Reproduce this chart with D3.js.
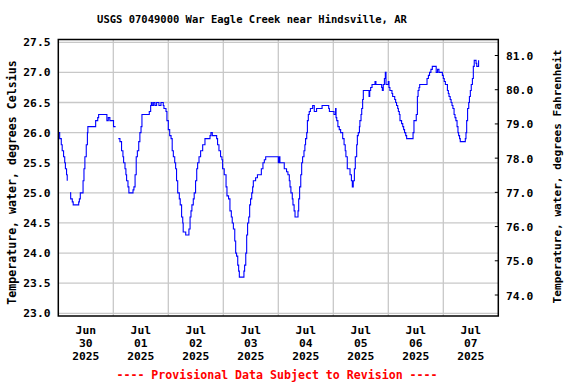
<!DOCTYPE html>
<html><head><meta charset="utf-8">
<script src="https://cdn.jsdelivr.net/npm/d3@7"></script>
<style>
html,body{margin:0;padding:0;background:#fff;}
svg{display:block;}
text{font-family:"DejaVu Sans Mono","Liberation Mono",monospace;font-weight:bold;}
</style></head>
<body><svg id="c" width="576" height="384"></svg>
<script>
const title = "USGS 07049000 War Eagle Creek near Hindsville, AR";
const yTitleLeft = "Temperature, water, degrees Celsius";
const yTitleRight = "Temperature, water, degrees Fahrenheit";
const footnote = "---- Provisional Data Subject to Revision ----";
const dayLabels = [["Jun","30","2025"],["Jul","01","2025"],["Jul","02","2025"],["Jul","03","2025"],["Jul","04","2025"],["Jul","05","2025"],["Jul","06","2025"],["Jul","07","2025"]];
const celsiusTicks = [23.0,23.5,24.0,24.5,25.0,25.5,26.0,26.5,27.0,27.5];
const fahrenheitTicks = [74.0,75.0,76.0,77.0,78.0,79.0,80.0,81.0];
// hours since 2025-06-30 00:00, temperature in deg C (null = gap)
const hours = [0,0.6,1.3,1.7,2.3,2.8,3.1,3.6,3.9,4.5,5.1,5.4,6.1,6.5,8.0,8.9,9.2,9.6,10.5,10.8,11.2,11.6,12.2,12.7,12.9,13.5,16.0,16.3,17.2,17.6,21.1,21.2,21.8,22.5,24.0,24.1,25.0,25.6,
26.2,26.9,27.6,28.2,28.5,29.1,29.5,29.8,30.4,30.8,32.1,32.6,33.0,33.5,34.0,34.5,35.1,35.6,36.1,36.5,37.5,39.7,40.3,40.6,41.0,41.6,42.2,42.9,43.9,44.8,45.8,46.1,47.0,47.4,48.0,48.6,49.2,49.7,50.2,50.8,51.2,51.6,52.1,52.8,53.2,53.8,54.3,54.5,55.6,56.7,57.0,57.5,57.9,58.3,58.9,59.3,59.9,60.4,60.8,61.4,62.1,63.0,64.0,66.2,66.6,67.2,
69.1,69.5,70.1,70.8,71.4,71.7,72.4,73.2,73.6,74.3,74.9,75.5,75.9,76.4,77.0,77.4,77.8,78.3,78.7,79.0,80.7,81.0,81.3,81.8,82.2,82.6,83.1,83.5,83.9,84.4,84.8,85.1,86.0,86.1,86.9,88.0,88.6,89.3,89.9,90.5,95.6,96.0,96.4,96.7,98.2,98.6,99.6,100.2,100.8,101.1,101.5,102.1,102.4,102.9,103.3,104.3,104.6,104.9,105.3,105.8,106.2,106.6,107.2,107.6,107.9,108.4,108.7,109.1,109.5,110.0,111.0,111.7,112.7,113.8,115.1,118.0,118.3,120.0,120.3,121.0,121.2,121.5,122.0,122.6,123.2,124.1,124.7,125.2,125.5,126.1,126.8,127.3,127.9,128.3,128.7,129.2,129.6,130.2,130.5,130.9,131.4,131.6,132.1,132.4,132.8,133.1,
135.3,135.6,135.9,136.3,136.9,137.5,138.2,138.6,140.8,141.1,141.4,141.8,142.3,142.7,143.0,143.6,144.0,144.3,144.7,145.6,145.9,146.3,146.8,147.2,147.6,148.1,148.4,148.8,149.1,149.8,150.3,150.7,151.1,151.6,152.0,154.5,154.8,155.2,156.0,156.2,156.7,157.0,157.4,157.7,160.6,160.9,161.5,162.0,162.6,163.2,164.7,164.9,165.5,166.1,167.3,167.6,168.0,168.4,168.9,169.3,169.8,170.2,170.5,171.0,171.4,171.8,172.2,172.7,173.1,173.5,174.0,174.4,174.7,175.1,175.4,177.3,177.6,177.9,178.2,178.6,179.1,179.4,179.8,180.2,180.7,181.1,181.5,182.3,182.6,183.2,183.4];
const tempC = [26.0,25.9,25.8,25.7,25.6,25.5,25.4,25.3,25.2,null,25.0,24.9,24.85,24.8,24.8,24.85,24.9,25.0,25.0,25.2,25.4,25.6,25.8,26.0,26.1,26.1,26.1,26.2,26.25,26.3,26.3,26.2,26.25,26.2,26.2,26.1,26.1,null,
25.9,25.85,25.7,25.6,25.5,25.4,25.3,25.2,25.1,25.0,25.0,25.05,25.1,25.3,25.6,25.7,25.85,26.0,26.1,26.3,26.3,26.35,26.45,26.5,26.45,26.5,26.45,26.5,26.45,26.5,26.45,26.4,26.35,26.2,26.05,25.95,25.9,25.7,25.6,25.5,25.4,25.2,25.0,24.9,24.8,24.6,24.5,24.35,24.3,24.3,24.4,24.6,24.7,24.8,24.9,25.0,25.2,25.4,25.5,25.6,25.7,25.8,25.9,25.95,26.0,25.95,
25.9,25.8,25.7,25.6,25.55,25.4,25.3,25.1,24.95,24.9,24.7,24.6,24.5,24.4,24.2,24.0,23.95,23.8,23.7,23.6,23.6,23.7,23.8,24.0,24.3,24.5,24.6,24.8,24.9,25.0,25.1,25.2,25.2,25.25,25.3,25.3,25.4,25.5,25.55,25.6,25.6,25.5,25.6,25.5,25.5,25.4,25.35,25.3,25.2,25.1,25.0,24.9,24.8,24.7,24.6,24.6,24.7,24.9,25.1,25.3,25.5,25.6,25.7,25.8,25.9,26.0,26.2,26.3,26.35,26.4,26.45,26.35,26.4,26.4,26.45,26.4,26.35,26.35,26.3,26.4,26.25,26.2,26.1,26.05,26.0,25.9,25.8,25.7,25.6,25.4,25.4,25.3,25.2,25.1,25.2,25.4,25.6,25.8,25.95,26.0,26.1,26.2,26.3,26.4,26.55,26.7,
26.7,26.6,26.7,26.75,26.8,26.8,26.85,26.8,26.8,26.75,26.7,26.8,26.9,27.0,26.8,26.8,26.85,26.75,26.7,26.65,26.6,26.6,26.55,26.5,26.45,26.4,26.35,26.3,26.2,26.15,26.1,26.05,26.0,25.95,25.9,25.9,26.0,26.2,26.2,26.3,26.6,26.7,26.75,26.8,26.8,26.9,26.95,27.0,27.05,27.1,27.1,27.0,27.05,27.0,27.0,26.95,26.9,26.85,26.8,26.8,26.7,26.65,26.6,26.55,26.5,26.45,26.4,26.3,26.25,26.2,26.1,26.0,25.95,25.9,25.85,25.85,25.9,26.0,26.2,26.4,26.5,26.6,26.7,26.8,26.9,27.1,27.2,27.15,27.1,27.1,27.2];

const svg = d3.select("#c");
const L = 58.3, R = 498.3, T = 39.5, B = 316;
const start = new Date(2025,5,30,0,0,0);
const end = new Date(2025,6,8,0,0,0);
const x = d3.scaleTime().domain([start,end]).range([L,R]);
const y = d3.scaleLinear().domain([23.0,27.5]).range([313.3,42.3]);
const yF = d3.scaleLinear().domain([74,81]).range([295,55.5]);

const data = hours.map((h,i)=>({t:d3.timeMinute.offset(start, Math.round(h*60)), v:tempC[i]}));

// grid
const grid = svg.append("g").attr("stroke","#c8c8c8").attr("stroke-width",1.3);
celsiusTicks.forEach(c=>{
  grid.append("line").attr("x1",L).attr("x2",R).attr("y1",y(c)).attr("y2",y(c));
});
d3.timeDay.range(d3.timeDay.offset(start,1), end).forEach(d=>{
  grid.append("line").attr("x1",x(d)).attr("x2",x(d)).attr("y1",T).attr("y2",B);
});

// line
const line = d3.line().defined(d=>d.v!==null).x(d=>x(d.t)).y(d=>y(d.v)).curve(d3.curveStepAfter);
svg.append("path").datum(data).attr("d",line).attr("fill","none").attr("stroke","#0000ff").attr("stroke-width",1.1);

// frame
svg.append("rect").attr("x",L).attr("y",T).attr("width",R-L).attr("height",B-T)
  .attr("fill","none").attr("stroke","#000").attr("stroke-width",1.5);

// left labels
svg.append("g").selectAll("text").data(celsiusTicks).join("text")
  .attr("x",50.5).attr("y",d=>y(d)+4).attr("text-anchor","end")
  .attr("font-size","11.3px").text(d=>d3.format(".1f")(d));

// right ticks & labels
const rg = svg.append("g");
fahrenheitTicks.forEach(f=>{
  rg.append("line").attr("x1",R-3.5).attr("x2",R).attr("y1",yF(f)).attr("y2",yF(f)).attr("stroke","#000").attr("stroke-width",1);
  rg.append("text").attr("x",506).attr("y",yF(f)+4.5).attr("font-size","11.3px").text(d3.format(".1f")(f));
});

// bottom labels
dayLabels.forEach((lab,i)=>{
  const cx = x(d3.timeHour.offset(d3.timeDay.offset(start,i),12));
  lab.forEach((s,j)=>{
    svg.append("text").attr("x",cx).attr("y",334+j*13).attr("text-anchor","middle")
      .attr("font-size","11.3px").text(s);
  });
});

// titles
svg.append("text").attr("x",252).attr("y",23).attr("text-anchor","middle").attr("font-size","10.5px").text(title);
svg.append("text").attr("transform","translate(15.5,182.5) rotate(-90)").attr("text-anchor","middle")
  .attr("font-size","11.6px").text(yTitleLeft);
svg.append("text").attr("transform","translate(561,176.5) rotate(-90)").attr("text-anchor","middle")
  .attr("font-size","11.1px").text(yTitleRight);
svg.append("text").attr("x",277).attr("y",379).attr("text-anchor","middle").attr("font-size","11.6px")
  .attr("fill","#ff0000").text(footnote);
</script></body></html>
